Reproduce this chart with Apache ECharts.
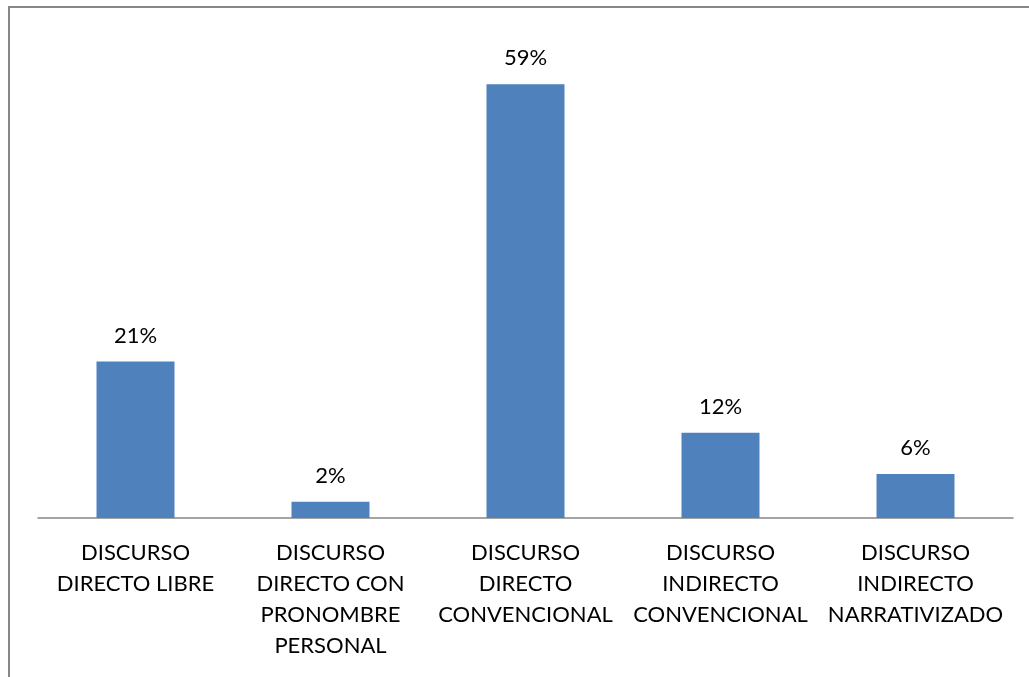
<!DOCTYPE html>
<html><head><meta charset="utf-8">
<script src="https://cdn.jsdelivr.net/npm/echarts@6/dist/echarts.min.js"></script>
<style>html,body{margin:0;padding:0;background:#fff}#c{width:1029px;height:677px}</style>
</head><body><div id="c"></div>
<script>
const categories = [
  "DISCURSO\nDIRECTO LIBRE",
  "DISCURSO\nDIRECTO CON\nPRONOMBRE\nPERSONAL",
  "DISCURSO\nDIRECTO\nCONVENCIONAL",
  "DISCURSO\nINDIRECTO\nCONVENCIONAL",
  "DISCURSO\nINDIRECTO\nNARRATIVIZADO"
];
const values = [21.3, 2.2, 59.0, 11.6, 6.0];

const chart = echarts.init(document.getElementById('c'), null, {renderer: 'canvas'});
chart.setOption({
  animation: false,
  backgroundColor: '#ffffff',
  graphic: [{
    type: 'rect', silent: true,
    shape: {x: 9, y: 7, width: 1060, height: 720},
    style: {fill: 'none', stroke: '#878787', lineWidth: 2}
  }],
  grid: {left: 38, right: 16, top: 77, bottom: 159, containLabel: false},
  xAxis: {
    type: 'category',
    data: categories,
    axisTick: {show: false},
    axisLine: {lineStyle: {color: '#868686', width: 1.5}},
    axisLabel: {
      interval: 0, color: '#000', fontFamily: 'Lato', fontSize: 22,
      lineHeight: 31, margin: 19
    }
  },
  yAxis: {
    type: 'value', min: 0, max: 60, show: false,
    splitLine: {show: false}
  },
  series: [{
    type: 'bar',
    data: values,
    barWidth: 78,
    itemStyle: {color: '#4F81BD'},
    label: {
      show: true, position: 'top', distance: 15,
      color: '#000', fontFamily: 'Lato', fontSize: 22,
      formatter: p => Math.round(p.value) + '%'
    }
  }]
});
</script></body></html>
